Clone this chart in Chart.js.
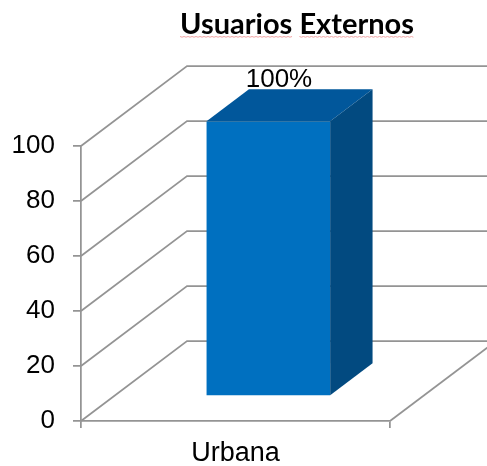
<!DOCTYPE html>
<html>
<head>
<meta charset="utf-8">
<script src="https://cdn.jsdelivr.net/npm/chart.js@4.4.1/dist/chart.umd.min.js"></script>
<style>
  html, body { margin: 0; padding: 0; background: #fff; }
  #wrap { width: 487px; height: 466px; }
</style>
</head>
<body>
<div id="wrap"><canvas id="chart"></canvas></div>
<script>
const TITLE = 'Usuarios Externos';
const categories = ['Urbana'];
const values = [100];
const valueLabels = ['100%'];
const yTicks = [0, 20, 40, 60, 80, 100];

// 3D look
const DEPTH_X = 106;
const DEPTH_Y = 80;
const BAR_SHIFT = 0.31;   // bar front face sits this far into the depth
const BAR_DEPTH = 0.4;    // bar depth as share of the full depth
const GRID = '#949494';

const wallsPlugin = {
    id: 'walls',
    beforeDatasetsDraw(chart) {
        const { ctx, chartArea: a, scales: { y } } = chart;
        ctx.save();
        ctx.strokeStyle = GRID;
        ctx.lineWidth = 1.75;
        yTicks.forEach(v => {
            const py = y.getPixelForValue(v);
            ctx.beginPath();
            ctx.moveTo(a.left, py);
            ctx.lineTo(a.left + DEPTH_X, py - DEPTH_Y);
            ctx.lineTo(a.right + DEPTH_X, py - DEPTH_Y);
            ctx.stroke();
        });
        // floor right edge
        ctx.beginPath();
        ctx.moveTo(a.right, a.bottom);
        ctx.lineTo(a.right + DEPTH_X, a.bottom - DEPTH_Y);
        ctx.stroke();
        ctx.restore();
    },
    beforeDatasetDraw(chart) {
        chart.ctx.save();
        chart.ctx.translate(DEPTH_X * BAR_SHIFT, -DEPTH_Y * BAR_SHIFT);
    },
    afterDatasetDraw(chart, args) {
        const { ctx } = chart;
        const dx = DEPTH_X * BAR_DEPTH, dy = DEPTH_Y * BAR_DEPTH;
        args.meta.data.forEach((bar, i) => {
            const p = bar.getProps(['x', 'y', 'base', 'width'], true);
            const x0 = p.x - p.width / 2, x1 = p.x + p.width / 2;
            // top face
            ctx.fillStyle = '#01579b';
            ctx.beginPath();
            ctx.moveTo(x0, p.y);
            ctx.lineTo(x1, p.y);
            ctx.lineTo(x1 + dx, p.y - dy);
            ctx.lineTo(x0 + dx, p.y - dy);
            ctx.closePath();
            ctx.fill();
            // side face
            ctx.fillStyle = '#024a80';
            ctx.beginPath();
            ctx.moveTo(x1, p.y);
            ctx.lineTo(x1 + dx, p.y - dy);
            ctx.lineTo(x1 + dx, p.base - dy);
            ctx.lineTo(x1, p.base);
            ctx.closePath();
            ctx.fill();
            // value label
            ctx.fillStyle = '#000';
            ctx.font = '26px "Liberation Sans", Arial, sans-serif';
            ctx.textAlign = 'center';
            ctx.textBaseline = 'alphabetic';
            ctx.fillText(valueLabels[i], p.x + dx / 4, p.y - dy - 2);
        });
        ctx.restore();
    },
    afterDraw(chart) {
        const { ctx } = chart;
        ctx.save();
        ctx.font = 'bold 29px Lato, sans-serif';
        ctx.fillStyle = '#000';
        ctx.textAlign = 'left';
        ctx.textBaseline = 'alphabetic';
        const w = ctx.measureText(TITLE).width;
        let x = 297 - w / 2;
        const base = 34;
        ctx.fillText(TITLE, x, base);
        // spell-check squiggle under each word
        ctx.strokeStyle = '#f2a3a3';
        ctx.lineWidth = 1;
        TITLE.split(' ').forEach(word => {
            const ww = ctx.measureText(word).width;
            ctx.beginPath();
            for (let t = 0; t <= ww; t += 2) {
                const yy = base + 2.5 + ((t / 2) % 2 ? 0.7 : 0);
                if (t === 0) ctx.moveTo(x + t, yy); else ctx.lineTo(x + t, yy);
            }
            ctx.stroke();
            x += ww + ctx.measureText(' ').width;
        });
        ctx.restore();
    }
};

new Chart(document.getElementById('chart'), {
    type: 'bar',
    data: {
        labels: categories,
        datasets: [{
            data: values,
            backgroundColor: '#0070c0',
            borderWidth: 0,
            categoryPercentage: 1,
            barPercentage: 0.4
        }]
    },
    options: {
        responsive: true,
        maintainAspectRatio: false,
        animation: false,
        layout: { padding: { top: 146, right: 97, left: 0, bottom: 0 } },
        plugins: {
            legend: { display: false },
            title: { display: false },
            tooltip: { enabled: false }
        },
        scales: {
            x: {
                grid: { drawOnChartArea: false, color: GRID, lineWidth: 1.75, tickLength: 7, offset: true },
                border: { color: GRID, width: 1.75 },
                ticks: { color: '#000', padding: 9, font: { family: '"Liberation Sans", Arial', size: 27 } },
                afterFit(s) { s.height = 45; }
            },
            y: {
                min: 0,
                max: 100,
                afterBuildTicks(s) { s.ticks = yTicks.map(v => ({ value: v })); },
                grid: { drawOnChartArea: false, color: GRID, lineWidth: 1.75, tickLength: 8 },
                border: { color: GRID, width: 1.75 },
                ticks: { color: '#000', padding: 18, font: { family: '"Liberation Sans", Arial', size: 26 } },
                afterFit(s) { s.width = 81; }
            }
        }
    },
    plugins: [wallsPlugin]
});
</script>
</body>
</html>
